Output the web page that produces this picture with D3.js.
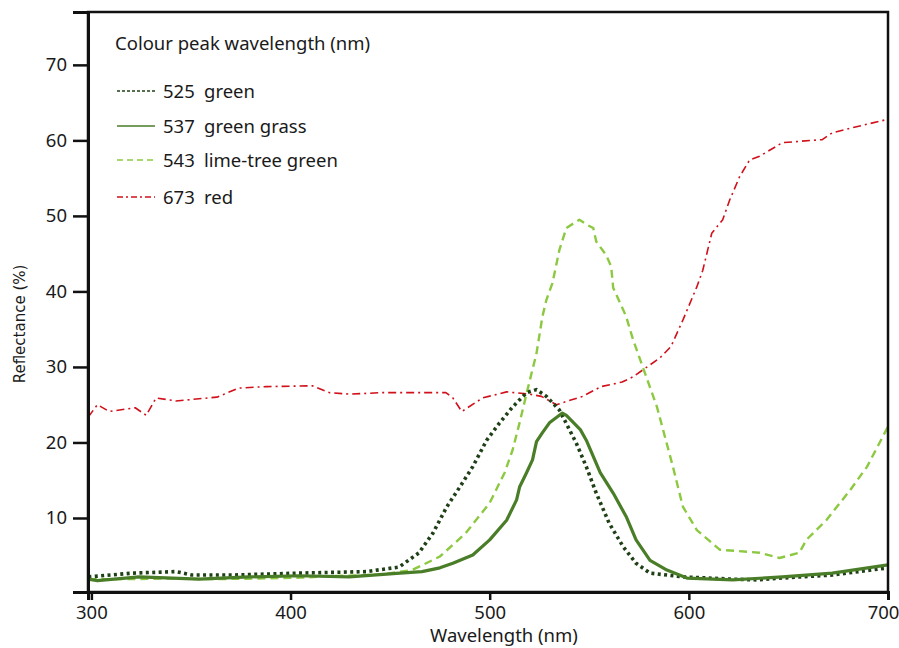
<!DOCTYPE html>
<html>
<head>
<meta charset="utf-8">
<script src="https://cdn.jsdelivr.net/npm/d3@7"></script>
<style>
  body { margin: 0; background: #fff; }
  svg { display: block; }
  text { font-family: "Noto Sans", "Open Sans", sans-serif; fill: #1a1a1a; }
</style>
</head>
<body>
<div id="chart"></div>
<script>
// reflectance spectra
var wlRed = [298.5, 303, 309, 322, 327.5, 332.5, 342.5, 363, 374, 388, 411, 419.5, 429.5, 446, 478, 481.5, 486, 496.5, 508.5, 520, 526, 533.5, 546.5, 556, 566.5, 572, 585.5, 591, 597, 604, 607, 611.5, 617, 620.5, 625.5, 630.5, 635.5, 647, 667, 672, 681, 700];
var valRed = [23.4, 25.0, 24.1, 24.6, 23.6, 25.9, 25.5, 26.0, 27.2, 27.4, 27.5, 26.6, 26.4, 26.6, 26.6, 25.9, 24.1, 25.9, 26.7, 26.4, 26.1, 25.0, 26.1, 27.4, 28.0, 28.7, 31.2, 32.7, 36.2, 40.6, 42.8, 47.7, 49.5, 52.1, 55.2, 57.4, 57.9, 59.7, 60.1, 61.0, 61.6, 62.8];

var wlLime = [298.5, 320, 340, 360, 388, 405, 420, 445, 461, 475, 488, 500, 507.5, 511.5, 515, 519, 523.5, 526.5, 528.5, 531.5, 535, 538.5, 545, 549, 552, 553.5, 558.5, 561, 562, 568.5, 572, 575.5, 584, 592, 597, 604, 615.5, 635.5, 645.5, 655.5, 659, 669, 681, 689.5, 700];
var valLime = [1.9, 1.9, 2.0, 1.9, 2.0, 2.1, 2.3, 2.5, 3.1, 4.9, 8.0, 12.0, 16.0, 19.0, 22.6, 27.0, 31.8, 36.7, 38.9, 41.1, 45.5, 48.4, 49.5, 48.8, 48.4, 46.6, 44.8, 43.3, 40.5, 36.7, 33.6, 31.0, 24.7, 16.8, 11.5, 8.4, 5.8, 5.4, 4.7, 5.4, 7.1, 9.7, 13.7, 16.8, 22.1];

var wlGreen = [298.5, 320.5, 342.5, 350.5, 371, 404.5, 438, 454.5, 464.5, 471.5, 478.5, 485, 491.5, 498.5, 505, 511.5, 518.5, 523.5, 528.5, 535, 543.5, 548.5, 553.5, 560, 567, 573.5, 580.5, 597, 622, 634, 647, 672, 700];
var valGreen = [2.2, 2.7, 2.9, 2.45, 2.45, 2.7, 2.9, 3.5, 5.4, 8.0, 11.5, 14.1, 16.8, 20.3, 22.6, 24.7, 26.6, 27.0, 26.1, 24.3, 19.9, 16.8, 13.3, 9.3, 6.2, 4.0, 2.7, 2.2, 1.9, 1.8, 2.05, 2.45, 3.4];

var wlGrass = [298.5, 303, 324, 354, 379, 404.5, 429.5, 455, 466, 475, 481.5, 491.5, 500, 508.5, 513.5, 515, 518.5, 521.5, 523.5, 526.5, 530, 536.5, 538.5, 545.5, 548.5, 555.5, 562, 568.5, 573.5, 580.5, 589, 599, 622, 647, 672, 700];
var valGrass = [1.9, 1.7, 2.2, 1.9, 2.2, 2.35, 2.2, 2.7, 2.9, 3.4, 4.0, 5.1, 7.1, 9.7, 12.4, 14.1, 16.0, 17.7, 20.1, 21.3, 22.6, 23.9, 23.6, 21.7, 20.3, 16.0, 13.3, 10.2, 7.1, 4.4, 3.1, 2.05, 1.8, 2.2, 2.7, 3.8];

var xTicks = [300, 400, 500, 600, 700];
var yTicks = [10, 20, 30, 40, 50, 60, 70];

var legendTitle = "Colour peak wavelength (nm)";
var legendCodes = ["525", "537", "543", "673"];
var legendNames = ["green", "green grass", "lime-tree green", "red"];

var width = 899, height = 648;
var mLeft = 88, mRight = 888, mTop = 12, mBottom = 592;

var svg = d3.select("#chart").append("svg")
  .attr("width", width)
  .attr("height", height);

var x = d3.scaleLinear().domain([298.3, 700]).range([mLeft, mRight]);
var y = d3.scaleLinear().domain([0.2, 77]).range([mBottom, mTop]);

// series styles, same order as the legend
var series = [
  {wl: wlGreen, val: valGreen, color: "#1f4016", width: 3.6, dash: "3,3.4", cap: "butt"},
  {wl: wlGrass, val: valGrass, color: "#4a7d28", width: 3.2, dash: null, cap: "round"},
  {wl: wlLime, val: valLime, color: "#8cc940", width: 2.4, dash: "8,5", cap: "butt"},
  {wl: wlRed, val: valRed, color: "#d0101a", width: 1.6, dash: "8,4,2,4", cap: "butt"}
];
var legendStyles = [
  {dash: "3,2", width: 1.5},
  {dash: null, width: 1.5},
  {dash: "6,4", width: 1.6},
  {dash: "6,3,2,3", width: 1.5}
];

svg.append("clipPath").attr("id", "plot")
  .append("rect")
  .attr("x", mLeft).attr("y", mTop)
  .attr("width", mRight - mLeft).attr("height", mBottom - mTop);

var line = d3.line()
  .x(function(d) { return x(d[0]); })
  .y(function(d) { return y(d[1]); });

// draw back to front: red, lime, dotted, solid
var drawOrder = [3, 2, 0, 1];
drawOrder.forEach(function(i) {
  var s = series[i];
  var pts = s.wl.map(function(w, j) { return [w, s.val[j]]; });
  svg.append("path")
    .attr("clip-path", "url(#plot)")
    .attr("d", line(pts))
    .attr("fill", "none")
    .attr("stroke", s.color)
    .attr("stroke-width", s.width)
    .attr("stroke-linejoin", "round")
    .attr("stroke-linecap", s.cap)
    .attr("stroke-dasharray", s.dash);
});

// frame
svg.append("rect")
  .attr("x", mLeft).attr("y", mTop)
  .attr("width", mRight - mLeft).attr("height", mBottom - mTop)
  .attr("fill", "none")
  .attr("stroke", "#111")
  .attr("stroke-width", 2.5);

// axes
var xAxis = svg.append("g")
  .attr("transform", "translate(0," + mBottom + ")")
  .call(d3.axisBottom(x).tickValues(xTicks).tickSize(8).tickPadding(6).tickFormat(d3.format("d")));
var yAxis = svg.append("g")
  .attr("transform", "translate(" + mLeft + ",0)")
  .call(d3.axisLeft(y).tickValues(yTicks).tickSize(15).tickPadding(6).tickFormat(d3.format("d")));

[xAxis, yAxis].forEach(function(g) {
  g.select(".domain").attr("stroke", "#111").attr("stroke-width", 3);
  g.selectAll(".tick line").attr("stroke", "#111").attr("stroke-width", 2.5);
  g.selectAll(".tick text")
    .attr("fill", "#1a1a1a")
    .style("font-family", '"Noto Sans", sans-serif')
    .style("font-size", "18.5px");
});
// keep the last x label inside the window
xAxis.selectAll(".tick text").filter(function(d) { return d === 700; }).attr("dx", -5);

// axis titles
svg.append("text")
  .attr("x", 504).attr("y", 642)
  .attr("text-anchor", "middle")
  .style("font-size", "18.5px")
  .text("Wavelength (nm)");

svg.append("text")
  .attr("transform", "translate(25,324) rotate(-90)")
  .attr("text-anchor", "middle")
  .style("font-family", '"DejaVu Sans", sans-serif')
  .style("font-size", "15px")
  .text("Reflectance (%)");

// legend
svg.append("text")
  .attr("x", 115).attr("y", 50)
  .style("font-size", "18.5px")
  .text(legendTitle);

var rowY = [91, 126, 160, 197];
legendCodes.forEach(function(code, i) {
  var st = legendStyles[i];
  svg.append("line")
    .attr("x1", 117).attr("x2", 155)
    .attr("y1", rowY[i]).attr("y2", rowY[i])
    .attr("stroke", series[i].color)
    .attr("stroke-width", st.width)
    .attr("stroke-dasharray", st.dash);
  svg.append("text")
    .attr("x", 163).attr("y", rowY[i] + 7)
    .style("font-size", "18.5px")
    .text(code);
  svg.append("text")
    .attr("x", 204).attr("y", rowY[i] + 7)
    .style("font-size", "18.5px")
    .text(legendNames[i]);
});
</script>
</body>
</html>
